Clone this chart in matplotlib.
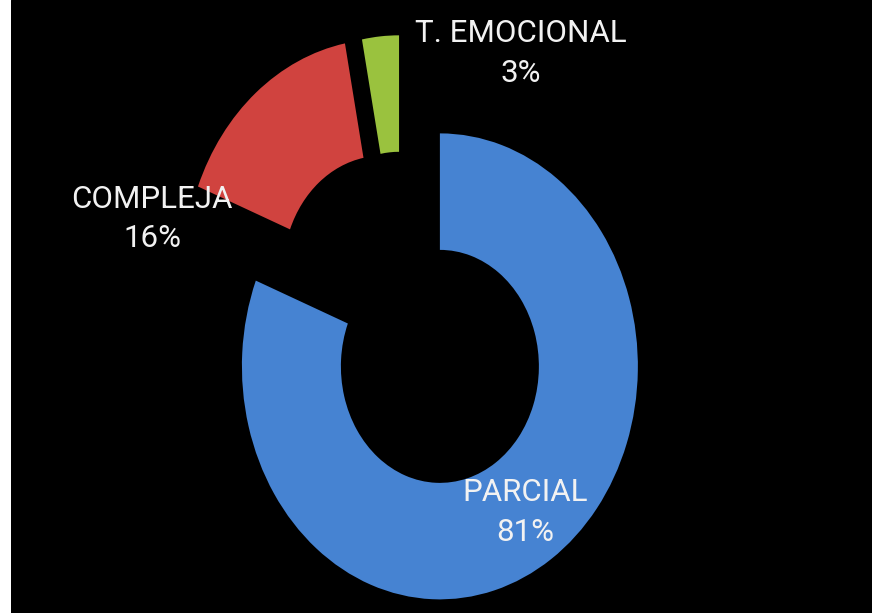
import matplotlib.pyplot as plt

# Data
labels = ["PARCIAL", "COMPLEJA", "T. EMOCIONAL"]
values = [81, 16, 3]
colors = ["#4683D2", "#D0433F", "#9AC23E"]
explode = [0.344, 0.155, 0.137]

fig = plt.figure(figsize=(8.72, 6.13), dpi=100, facecolor="white")
ax = fig.add_axes([11 / 872, 0, 861 / 872, 1])
ax.set_facecolor("black")

wedges, _ = ax.pie(values, colors=colors, explode=explode, startangle=90,
                   counterclock=False, radius=1.0,
                   wedgeprops=dict(width=0.5, edgecolor="none"))

# stretch the ring vertically like the original
ax.set_aspect("auto")
ax.set_xlim(-1.973, 2.376)
ax.set_ylim(-1.343, 1.288)
ax.axis("off")
ax.add_patch(plt.Rectangle((0, 0), 1, 1, transform=ax.transAxes,
                           color="black", zorder=-10))

# label positions (axes fraction), placed like the Excel labels
label_pos = [(0.597, 0.164), (0.164, 0.643), (0.592, 0.913)]
for lab, val, (x, y) in zip(labels, values, label_pos):
    ax.text(x, y, f"{lab}\n{val}%", transform=ax.transAxes, ha="center",
            va="center", color="#F2F2F2", fontsize=22.5, linespacing=1.45,
            family=["Roboto", "DejaVu Sans"])

fig.savefig("out.png", dpi=100, facecolor=fig.get_facecolor())
